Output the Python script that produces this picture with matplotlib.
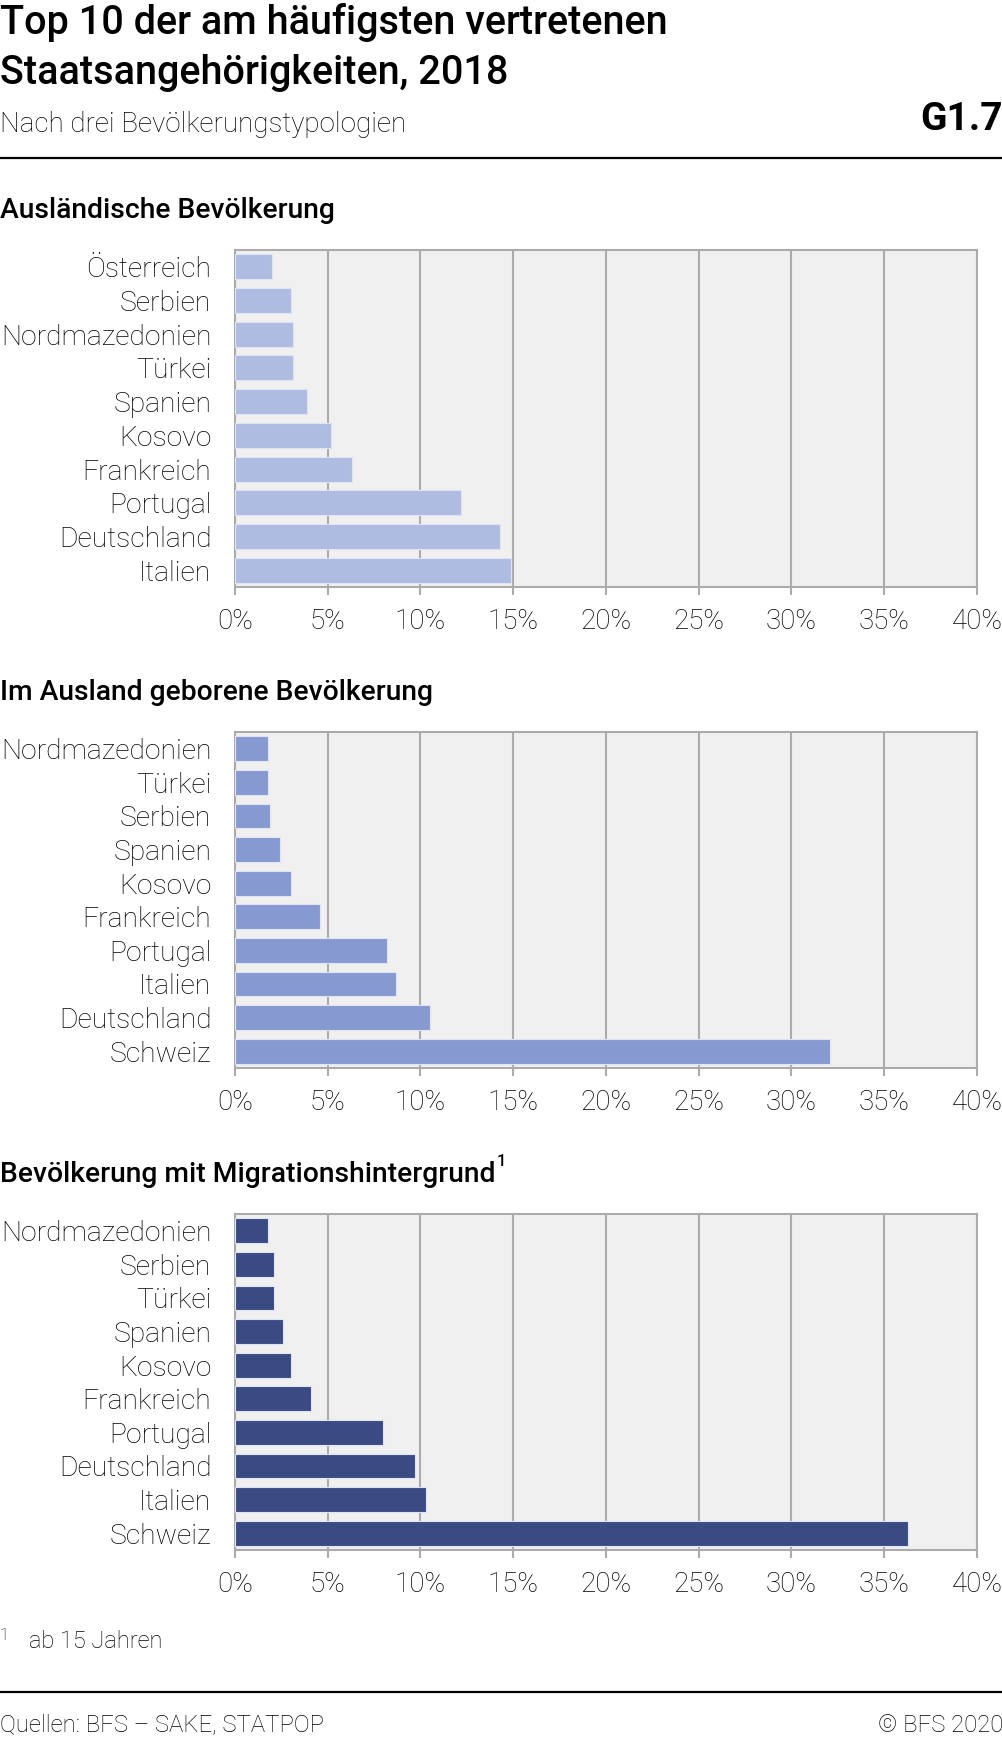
import matplotlib
matplotlib.use("Agg")
import matplotlib.pyplot as plt
from matplotlib.ticker import MultipleLocator, FuncFormatter

plt.rcParams['font.family'] = ['Roboto', 'DejaVu Sans']

# Daten (Anteil in %)
laender_1 = ['Österreich', 'Serbien', 'Nordmazedonien', 'Türkei', 'Spanien',
             'Kosovo', 'Frankreich', 'Portugal', 'Deutschland', 'Italien']
werte_1 = [2.0, 3.0, 3.1, 3.1, 3.9, 5.2, 6.3, 12.2, 14.3, 14.9]

laender_2 = ['Nordmazedonien', 'Türkei', 'Serbien', 'Spanien', 'Kosovo',
             'Frankreich', 'Portugal', 'Italien', 'Deutschland', 'Schweiz']
werte_2 = [1.8, 1.8, 1.9, 2.4, 3.0, 4.6, 8.2, 8.7, 10.5, 32.1]

laender_3 = ['Nordmazedonien', 'Serbien', 'Türkei', 'Spanien', 'Kosovo',
             'Frankreich', 'Portugal', 'Deutschland', 'Italien', 'Schweiz']
werte_3 = [1.8, 2.1, 2.1, 2.6, 3.0, 4.1, 8.0, 9.7, 10.3, 36.3]

titel_panels = ['Ausländische Bevölkerung',
                'Im Ausland geborene Bevölkerung',
                'Bevölkerung mit Migrationshintergrund']
farben = ['#aebce2', '#8799d1', '#3a4a83']

W, H = 1003, 1739
fig = plt.figure(figsize=(W / 100, H / 100), dpi=100)


def px_box(left, top, right, bottom):
    return [left / W, 1 - bottom / H, (right - left) / W, (bottom - top) / H]


def fy(y):
    return 1 - y / H


# Kopf
fig.text(0, fy(22), 'Top 10 der am häufigsten vertretenen', fontsize=28.5,
         fontweight='medium', va='center', ha='left')
fig.text(0, fy(73), 'Staatsangehörigkeiten, 2018', fontsize=28.5,
         fontweight='medium', va='center', ha='left')
fig.text(0, fy(124), 'Nach drei Bevölkerungstypologien', fontsize=20,
         fontweight='light', va='center', ha='left')
fig.text(1, fy(119), 'G1.7', fontsize=28, fontweight='bold',
         va='center', ha='right')
fig.add_artist(plt.Line2D([0, 1], [fy(157.5)] * 2, color='black', lw=1.6))

panels = [(laender_1, werte_1), (laender_2, werte_2), (laender_3, werte_3)]
tops = [250, 732, 1214]
bottoms = [587, 1068, 1550]
kopf_y = [210, 692, 1174]

renderer = fig.canvas.get_renderer()

for i, (laender, werte) in enumerate(panels):
    ax = fig.add_axes(px_box(235, tops[i], 977, bottoms[i]))
    ax.set_facecolor('#f0f0f0')
    ax.barh(range(len(laender)), werte, height=0.74, color=farben[i],
            edgecolor='#dfe4f4', linewidth=0.8, zorder=3)
    ax.set_yticks(range(len(laender)))
    ax.set_yticklabels(laender, fontsize=20.3, fontweight='light')
    ax.set_ylim(len(laender) - 0.5, -0.5)
    ax.set_xlim(0, 40)
    ax.xaxis.set_major_locator(MultipleLocator(5))
    ax.xaxis.set_major_formatter(FuncFormatter(lambda v, p: f'{v:.0f}%'))
    ax.grid(axis='x', color='#ababab', lw=1.5, zorder=1)
    for s in ax.spines.values():
        s.set_color('#ababab')
        s.set_linewidth(1.5)
    ax.tick_params(axis='y', length=0, pad=17)
    ax.tick_params(axis='x', length=6, width=1.5, color='#ababab',
                   labelsize=20, pad=9)
    for lab in ax.get_xticklabels():
        lab.set_fontweight('light')

    t = fig.text(0, fy(kopf_y[i]), titel_panels[i], fontsize=20.3,
                 fontweight='medium', va='center', ha='left')
    if i == 2:
        bb = t.get_window_extent(renderer)
        fig.text(bb.x1 / W + 0.001, fy(kopf_y[i] - 12), '1', fontsize=12,
                 fontweight='medium', va='center', ha='left')

# Fuss
fig.text(0, fy(1636), '1', fontsize=12, fontweight='light', va='center')
fig.text(29 / W, fy(1642), 'ab 15 Jahren', fontsize=17, fontweight='light',
         va='center')
fig.add_artist(plt.Line2D([0, 1], [fy(1692)] * 2, color='black', lw=1.6))
fig.text(0, fy(1725), 'Quellen: BFS – SAKE, STATPOP', fontsize=17.2,
         fontweight='light', va='center')
fig.text(1, fy(1725), '© BFS 2020', fontsize=17.2, fontweight='light',
         va='center', ha='right')

fig.savefig('out.png', dpi=100)
